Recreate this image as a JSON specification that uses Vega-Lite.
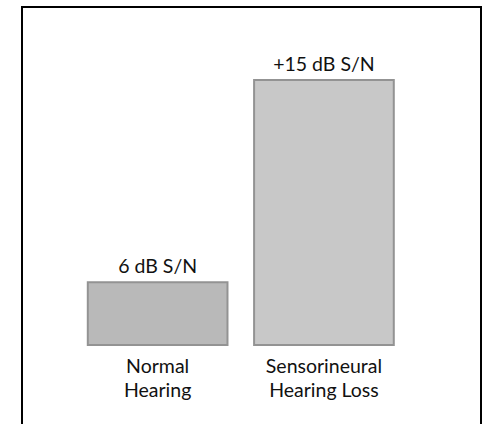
{
  "$schema": "https://vega.github.io/schema/vega-lite/v6.json",
  "width": 459,
  "height": 440,
  "padding": {"left": 22, "top": 7, "right": 6, "bottom": 0},
  "autosize": {"type": "none"},
  "background": "white",
  "config": {
    "view": {"stroke": "black", "strokeWidth": 2},
    "font": "Lato"
  },
  "data": {
    "values": [
      {"group": "Normal Hearing", "lines": ["Normal", "Hearing"], "snr": 6, "label": "6 dB S/N"},
      {"group": "Sensorineural Hearing Loss", "lines": ["Sensorineural", "Hearing Loss"], "snr": 15, "label": "+15 dB S/N"}
    ]
  },
  "encoding": {
    "x": {
      "field": "group",
      "type": "nominal",
      "sort": null,
      "axis": null,
      "scale": {"paddingInner": 0.16, "paddingOuter": 0.46, "align": 0.43}
    }
  },
  "layer": [
    {
      "mark": {"type": "bar", "stroke": "#939393", "strokeWidth": 2},
      "encoding": {
        "y": {"field": "snr", "type": "quantitative", "axis": null, "scale": {"domain": [-1.34, 18.25], "zero": false, "nice": false}},
        "y2": {"datum": 3.2},
        "fill": {"field": "group", "type": "nominal", "legend": null, "scale": {"range": ["#b9b9b9", "#c8c8c8"]}}
      }
    },
    {
      "mark": {"type": "text", "baseline": "alphabetic", "dy": -9, "fontSize": 19.5, "color": "#111111"},
      "encoding": {
        "y": {"field": "snr", "type": "quantitative"},
        "text": {"field": "label"}
      }
    },
    {
      "mark": {"type": "text", "baseline": "alphabetic", "dy": 28, "fontSize": 19.5, "lineHeight": 24, "color": "#111111"},
      "encoding": {
        "y": {"datum": 3.2},
        "text": {"field": "lines"}
      }
    }
  ]
}
